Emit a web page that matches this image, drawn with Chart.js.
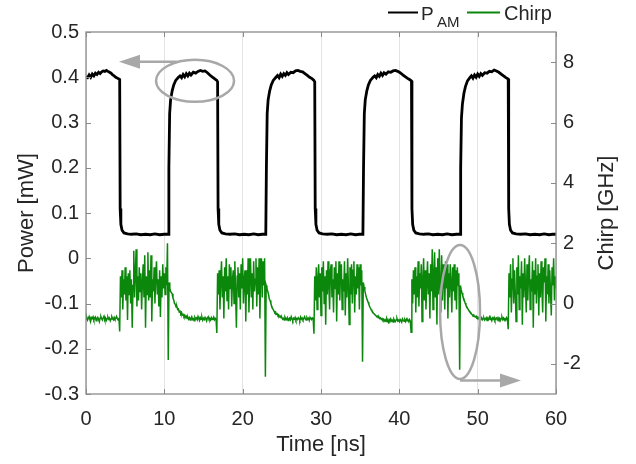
<!DOCTYPE html>
<html>
<head>
<meta charset="utf-8">
<title>Power and chirp vs time</title>
<script src="https://cdn.jsdelivr.net/npm/chart.js@4/dist/chart.umd.min.js"></script>
<style>
  html, body { margin: 0; padding: 0; background: #fff; }
  #wrap { width: 636px; height: 464px; }
</style>
</head>
<body>
<div id="wrap"><canvas id="c" width="636" height="464"></canvas></div>
<script>
// ---- tick values ----
const timeTicks = [0, 10, 20, 30, 40, 50, 60];
const powerTicks = [-0.3, -0.2, -0.1, 0, 0.1, 0.2, 0.3, 0.4, 0.5];
const chirpTicks = [-2, 0, 2, 4, 6, 8];

// ---- optical power P_AM (mW) sampled at the listed times (ns) ----
const powerTimeNs = [
  0, 0.2, 0.4, 0.6, 0.8, 1.0, 1.2, 1.4, 1.6, 1.8, 2.0, 2.2, 2.4, 2.6, 2.8, 3.0, 3.2, 3.4, 3.6, 3.8, 4.0, 4.2, 4.3,
  4.36, 4.45, 4.6, 4.85, 5.3, 5.8, 6.4, 7.0, 7.6, 8.2, 8.8, 9.4, 10.0, 10.5,
  10.58, 10.68, 10.8, 11.0, 11.2, 11.45, 11.8, 12.0, 12.2, 12.4, 12.6, 12.8, 13.0, 13.2, 13.4, 13.7, 14.0, 14.3, 14.6, 14.9, 15.2, 15.5, 15.8, 16.1, 16.4, 16.7, 16.8,
  16.86, 16.95, 17.1, 17.35, 17.8, 18.4, 19.0, 19.6, 20.2, 20.8, 21.4, 22.0, 22.5, 22.95,
  23.03, 23.13, 23.25, 23.45, 23.65, 23.9, 24.25, 24.45, 24.65, 24.85, 25.05, 25.25, 25.45, 25.65, 25.85, 26.15, 26.45, 26.75, 27.05, 27.35, 27.65, 27.95, 28.25, 28.55, 28.85, 29.1, 29.2,
  29.26, 29.35, 29.5, 29.75, 30.2, 30.8, 31.4, 32.0, 32.6, 33.2, 33.8, 34.4, 34.9, 35.35,
  35.43, 35.53, 35.65, 35.85, 36.05, 36.3, 36.65, 36.85, 37.05, 37.25, 37.45, 37.65, 37.85, 38.05, 38.3, 38.6, 38.9, 39.2, 39.5, 39.8, 40.1, 40.4, 40.7, 41.0, 41.3, 41.55,
  41.61, 41.7, 41.85, 42.1, 42.55, 43.1, 43.7, 44.3, 44.9, 45.5, 46.1, 46.7, 47.3, 47.75,
  47.83, 47.93, 48.05, 48.25, 48.45, 48.7, 49.0, 49.2, 49.4, 49.6, 49.8, 50.0, 50.2, 50.4, 50.6, 50.9, 51.2, 51.5, 51.8, 52.1, 52.4, 52.7, 53.0, 53.3, 53.6, 53.9,
  53.96, 54.05, 54.2, 54.45, 54.9, 55.5, 56.1, 56.7, 57.3, 57.9, 58.5, 59.1, 59.6, 60.0
];
const powerMW = [
  0.401, 0.399, 0.405, 0.400, 0.407, 0.403, 0.409, 0.406, 0.411, 0.408, 0.412, 0.414, 0.413, 0.415, 0.413, 0.411, 0.409, 0.405, 0.403, 0.400, 0.398, 0.396, 0.395,
  0.110, 0.075, 0.062, 0.056, 0.054, 0.053, 0.054, 0.052, 0.053, 0.052, 0.054, 0.052, 0.053, 0.053,
  0.200, 0.320, 0.350, 0.370, 0.383, 0.393, 0.400, 0.403, 0.399, 0.406, 0.401, 0.408, 0.403, 0.409, 0.405, 0.411, 0.409, 0.413, 0.415, 0.413, 0.414, 0.410, 0.405, 0.401, 0.397, 0.393, 0.390,
  0.110, 0.075, 0.062, 0.056, 0.054, 0.053, 0.054, 0.052, 0.053, 0.052, 0.054, 0.052, 0.053, 0.053,
  0.200, 0.320, 0.350, 0.370, 0.383, 0.393, 0.400, 0.404, 0.399, 0.407, 0.402, 0.408, 0.404, 0.410, 0.406, 0.411, 0.410, 0.414, 0.415, 0.413, 0.412, 0.408, 0.404, 0.400, 0.397, 0.393, 0.390,
  0.110, 0.075, 0.062, 0.056, 0.054, 0.053, 0.054, 0.052, 0.053, 0.052, 0.054, 0.052, 0.053, 0.053,
  0.200, 0.320, 0.350, 0.370, 0.383, 0.393, 0.400, 0.403, 0.399, 0.406, 0.402, 0.409, 0.404, 0.410, 0.407, 0.412, 0.411, 0.414, 0.415, 0.413, 0.410, 0.406, 0.402, 0.398, 0.395, 0.392,
  0.110, 0.075, 0.062, 0.056, 0.054, 0.053, 0.054, 0.052, 0.053, 0.052, 0.054, 0.052, 0.053, 0.053,
  0.200, 0.310, 0.340, 0.365, 0.380, 0.392, 0.399, 0.403, 0.398, 0.405, 0.400, 0.407, 0.402, 0.408, 0.404, 0.410, 0.409, 0.413, 0.412, 0.416, 0.414, 0.411, 0.407, 0.403, 0.399, 0.396,
  0.110, 0.075, 0.062, 0.056, 0.054, 0.053, 0.054, 0.052, 0.053, 0.052, 0.054, 0.052, 0.053, 0.053
];

// ---- frequency chirp (GHz), one sample every 0.1 ns from 0 to 60 ns ----
const chirpStepNs = 0.1;
const chirpGHz = [
  -0.52,-0.46,-0.55,-0.49,-0.43,-0.53,-0.58,-0.47,-0.50,-0.44,
  -0.54,-0.49,-0.45,-0.57,-0.50,-0.46,-0.52,-0.60,-0.48,-0.44,
  -0.51,-0.55,-0.47,-0.42,-0.53,-0.49,-0.56,-0.50,-0.45,-0.52,
  -0.48,-0.57,-0.51,-0.44,-0.50,-0.54,-0.46,-0.52,-0.49,-0.43,
  -0.50,-0.55,-0.47,-0.93,0.90,0.20,1.10,-0.20,0.80,0.30,
  1.20,0.10,0.90,-0.55,1.00,0.30,1.10,0.00,0.80,-0.80,
  0.60,1.75,0.20,1.00,1.80,-0.10,0.90,0.10,1.20,0.40,
  1.00,-0.20,0.70,1.30,0.20,1.60,-0.80,0.90,0.30,1.70,
  0.10,1.10,0.20,1.60,-0.60,0.80,0.40,1.20,0.00,0.90,
  1.40,0.30,0.80,-0.10,1.10,-0.45,0.90,0.20,1.30,0.50,
  1.00,0.30,1.20,0.60,2.00,-1.87,0.70,0.50,0.40,0.36,
  0.32,0.18,0.12,0.00,-0.02,-0.12,-0.10,-0.20,-0.18,-0.28,
  -0.26,-0.34,-0.30,-0.38,-0.36,-0.43,-0.39,-0.46,-0.42,-0.50,
  -0.45,-0.52,-0.47,-0.55,-0.49,-0.44,-0.53,-0.50,-0.57,-0.46,
  -0.51,-0.48,-0.54,-0.43,-0.50,-0.56,-0.47,-0.52,-0.45,-0.55,
  -0.49,-0.53,-0.46,-0.51,-0.58,-0.48,-0.44,-0.52,-0.50,-0.55,
  -0.47,-0.53,-0.50,-0.45,-0.54,-0.49,-0.52,-0.98,1.00,0.30,
  1.10,-0.20,0.80,1.40,0.20,0.90,-0.50,1.20,0.40,1.50,
  0.10,0.90,-0.20,1.30,0.50,1.20,-0.10,0.80,1.10,0.00,
  1.40,0.30,-0.80,0.90,1.20,0.20,1.00,-0.20,1.30,0.50,
  1.50,0.00,0.80,1.10,-0.60,1.10,0.30,1.50,-0.30,0.90,
  1.50,0.20,1.00,-0.20,1.40,0.40,0.80,1.50,-0.10,1.20,
  0.30,1.50,-0.50,1.00,1.50,0.20,1.40,0.60,1.50,-2.43,
  0.60,0.50,0.40,0.30,0.15,0.10,0.00,-0.08,-0.15,-0.20,
  -0.25,-0.30,-0.28,-0.36,-0.34,-0.40,-0.38,-0.44,-0.42,-0.47,
  -0.46,-0.52,-0.49,-0.55,-0.45,-0.50,-0.53,-0.47,-0.56,-0.50,
  -0.48,-0.54,-0.44,-0.51,-0.57,-0.49,-0.52,-0.46,-0.55,-0.50,
  -0.53,-0.47,-0.50,-0.56,-0.45,-0.52,-0.48,-0.54,-0.50,-0.44,
  -0.51,-0.55,-0.47,-0.52,-0.49,-0.56,-0.46,-0.50,-0.53,-0.48,
  -0.50,-1.00,0.90,0.10,1.20,-0.20,0.80,1.30,0.20,1.00,
  -0.40,1.20,0.40,1.40,0.00,0.90,-0.70,1.10,0.30,1.40,
  0.60,-0.20,1.10,1.30,0.20,0.80,-0.30,1.20,0.50,1.40,
  -0.60,1.00,0.30,1.40,0.10,1.10,1.30,-0.20,0.80,0.40,
  1.40,-0.40,1.00,0.20,1.50,0.60,-0.70,1.20,0.30,1.30,
  0.00,1.10,1.40,-0.30,0.90,0.30,1.30,0.50,1.20,-0.20,
  1.30,0.60,1.10,-1.93,0.70,0.55,0.42,0.30,0.20,0.12,
  0.05,-0.02,-0.10,-0.15,-0.20,-0.25,-0.28,-0.32,-0.35,-0.38,
  -0.40,-0.44,-0.42,-0.47,-0.45,-0.50,-0.48,-0.53,-0.50,-0.55,
  -0.52,-0.58,-0.54,-0.60,-0.50,-0.56,-0.62,-0.53,-0.57,-0.51,
  -0.58,-0.55,-0.61,-0.52,-0.57,-0.60,-0.54,-0.50,-0.58,-0.55,
  -0.60,-0.53,-0.57,-0.62,-0.51,-0.56,-0.59,-0.54,-0.60,-0.52,
  -0.57,-0.55,-0.60,-0.53,-0.58,-0.95,0.80,0.00,1.10,0.30,
  1.20,-0.30,0.90,0.20,1.40,-0.10,1.00,0.50,1.30,-0.60,
  0.80,1.50,0.10,1.10,-0.20,0.70,1.40,0.30,1.00,-0.50,
  1.30,0.40,1.80,-0.20,0.90,1.70,0.20,1.20,-0.70,1.50,
  0.30,1.80,0.60,-0.30,1.60,0.10,1.30,0.80,-0.20,1.40,
  0.50,1.30,-0.50,1.00,0.20,1.30,0.70,-0.30,1.20,0.40,
  1.30,0.10,1.10,-0.20,1.20,0.60,1.00,-2.20,0.60,0.45,
  0.35,0.25,0.18,0.10,0.02,-0.05,-0.10,-0.15,-0.20,-0.24,
  -0.28,-0.30,-0.34,-0.37,-0.40,-0.38,-0.43,-0.45,-0.42,-0.47,
  -0.45,-0.50,-0.47,-0.53,-0.49,-0.46,-0.54,-0.50,-0.48,-0.55,
  -0.51,-0.47,-0.56,-0.49,-0.52,-0.45,-0.53,-0.50,-0.57,-0.48,
  -0.52,-0.46,-0.55,-0.50,-0.48,-0.54,-0.47,-0.53,-0.49,-0.56,
  -0.50,-0.45,-0.53,-0.48,-0.55,-0.50,-0.52,-0.47,-0.54,-0.85,
  1.00,0.20,1.30,-0.30,0.80,1.50,0.00,1.10,0.40,-0.60,
  1.20,0.30,1.60,-0.20,0.90,0.50,1.40,-0.70,1.00,0.20,
  1.50,0.60,-0.30,1.30,0.10,1.00,1.60,-0.20,0.80,0.40,
  1.40,-0.80,1.10,0.30,1.50,0.00,0.90,1.30,-0.40,1.00,
  0.20,1.40,0.50,-0.30,1.20,0.70,1.50,-0.60,0.90,0.30,
  1.30,0.00,1.10,0.40,-0.40,1.20,0.60,1.50,0.10,0.90,
  0.50
];

// ---- call-out marks, in data units ----
const powerNote = { t: 13.92, p: 0.392, rt: 4.98, rp: 0.0464, fromT: 11.62, toT: 4.21, atP: 0.434 };
const chirpNote = { t: 47.75, f: -0.28, rt: 2.55, rf: 2.22, fromT: 47.75, toT: 55.53, atF: -2.55 };

const FONT = "'Liberation Sans', Arial, Helvetica, sans-serif";
const TEXT = '#262626';
const FRAME = '#8a8a8a';
const NOTE = '#a8a8a8';
const POWER_COLOR = '#000000';
const CHIRP_COLOR = '#0b870b';
const TICK_SIZE = 20;
const TITLE_SIZE = 22;

Chart.defaults.font.family = FONT;
Chart.defaults.color = TEXT;

const powerPoints = powerTimeNs.map((t, i) => ({ x: t, y: powerMW[i] }));
const chirpPoints = chirpGHz.map((f, i) => ({ x: +(i * chirpStepNs).toFixed(2), y: f }));

function arrow(ctx, x0, y0, x1, y1, headLen, headHalf) {
  const ang = Math.atan2(y1 - y0, x1 - x0);
  const bx = x1 - headLen * Math.cos(ang), by = y1 - headLen * Math.sin(ang);
  ctx.beginPath();
  ctx.moveTo(x0, y0);
  ctx.lineTo(bx, by);
  ctx.stroke();
  ctx.beginPath();
  ctx.moveTo(x1, y1);
  ctx.lineTo(bx - headHalf * Math.sin(ang), by + headHalf * Math.cos(ang));
  ctx.lineTo(bx + headHalf * Math.sin(ang), by - headHalf * Math.cos(ang));
  ctx.closePath();
  ctx.fill();
}

const decorations = {
  id: 'decorations',
  afterDatasetsDraw(chart) {
    const { ctx, chartArea: a, scales } = chart;
    const x = scales.x, y = scales.y, y1 = scales.y1;
    ctx.save();

    // axes box and inward ticks
    ctx.strokeStyle = FRAME;
    ctx.lineWidth = 1;
    ctx.beginPath();
    timeTicks.forEach(v => {
      const px = Math.round(x.getPixelForValue(v)) + 0.5;
      ctx.moveTo(px, a.top); ctx.lineTo(px, a.top + 5);
      ctx.moveTo(px, a.bottom); ctx.lineTo(px, a.bottom - 5);
    });
    powerTicks.forEach(v => {
      const py = Math.round(y.getPixelForValue(v)) + 0.5;
      ctx.moveTo(a.left, py); ctx.lineTo(a.left + 5, py);
    });
    chirpTicks.forEach(v => {
      const py = Math.round(y1.getPixelForValue(v)) + 0.5;
      ctx.moveTo(a.right, py); ctx.lineTo(a.right - 5, py);
    });
    ctx.stroke();
    ctx.lineWidth = 1.3;
    ctx.strokeRect(a.left, a.top, a.right - a.left, a.bottom - a.top);

    // call-outs
    ctx.strokeStyle = NOTE;
    ctx.fillStyle = NOTE;
    ctx.lineWidth = 2.5;
    const c1x = x.getPixelForValue(powerNote.t), c1y = y.getPixelForValue(powerNote.p);
    const r1x = x.getPixelForValue(powerNote.t + powerNote.rt) - c1x;
    const r1y = c1y - y.getPixelForValue(powerNote.p + powerNote.rp);
    ctx.beginPath();
    ctx.ellipse(c1x, c1y, r1x, r1y, 0, 0, Math.PI * 2);
    ctx.stroke();
    const ay1 = y.getPixelForValue(powerNote.atP);
    arrow(ctx, x.getPixelForValue(powerNote.fromT), ay1, x.getPixelForValue(powerNote.toT), ay1, 21, 7);

    const c2x = x.getPixelForValue(chirpNote.t), c2y = y1.getPixelForValue(chirpNote.f);
    const r2x = x.getPixelForValue(chirpNote.t + chirpNote.rt) - c2x;
    const r2y = c2y - y1.getPixelForValue(chirpNote.f + chirpNote.rf);
    ctx.beginPath();
    ctx.ellipse(c2x, c2y, r2x, r2y, 0, 0, Math.PI * 2);
    ctx.stroke();
    const ay2 = y1.getPixelForValue(chirpNote.atF);
    arrow(ctx, x.getPixelForValue(chirpNote.fromT), ay2, x.getPixelForValue(chirpNote.toT), ay2, 21, 7);
    ctx.restore();
  },
  afterDraw(chart) {
    const { ctx, chartArea: a } = chart;
    ctx.save();
    // right-hand axis title, reading bottom to top
    ctx.fillStyle = TEXT;
    ctx.font = `${TITLE_SIZE}px ${FONT}`;
    ctx.textAlign = 'center';
    ctx.textBaseline = 'middle';
    ctx.translate(607, (a.top + a.bottom) / 2);
    ctx.rotate(-Math.PI / 2);
    ctx.fillText('Chirp [GHz]', 0, 0);
    ctx.restore();

    // legend
    const ds = chart.data.datasets;
    ctx.save();
    ctx.lineWidth = 2;
    ctx.strokeStyle = ds[0].borderColor;
    ctx.beginPath(); ctx.moveTo(388, 12.5); ctx.lineTo(418, 12.5); ctx.stroke();
    ctx.fillStyle = TEXT;
    ctx.textBaseline = 'alphabetic';
    ctx.textAlign = 'left';
    ctx.font = `19px ${FONT}`;
    ctx.fillText('P', 421, 19.5);
    ctx.font = `15px ${FONT}`;
    ctx.fillText('AM', 437, 26.5);
    ctx.strokeStyle = ds[1].borderColor;
    ctx.beginPath(); ctx.moveTo(467, 12.5); ctx.lineTo(500, 12.5); ctx.stroke();
    ctx.font = `20px ${FONT}`;
    ctx.fillText('Chirp', 504, 20);
    ctx.restore();
  }
};

new Chart(document.getElementById('c'), {
  type: 'line',
  data: {
    datasets: [
      { label: 'P_AM', data: powerPoints, yAxisID: 'y', borderColor: POWER_COLOR, borderWidth: 2.8,
        pointRadius: 0, tension: 0, fill: false, order: 1 },
      { label: 'Chirp', data: chirpPoints, yAxisID: 'y1', borderColor: CHIRP_COLOR, borderWidth: 1.5,
        pointRadius: 0, tension: 0, fill: false, order: 2 }
    ]
  },
  options: {
    responsive: false,
    animation: false,
    events: [],
    layout: { padding: { top: 32, left: 0, right: 0, bottom: 0 } },
    plugins: { legend: { display: false }, tooltip: { enabled: false } },
    scales: {
      x: {
        type: 'linear', min: 0, max: 60,
        afterBuildTicks: s => { s.ticks = timeTicks.map(v => ({ value: v })); },
        afterFit: s => { s.height = 70; },
        grid: { color: '#e3e3e3', lineWidth: 1, drawTicks: false },
        border: { display: false },
        ticks: { font: { size: TICK_SIZE }, color: TEXT, padding: 13, maxRotation: 0 },
        title: { display: true, text: 'Time [ns]', font: { size: TITLE_SIZE }, color: TEXT, padding: { top: 0, bottom: 6 } }
      },
      y: {
        type: 'linear', position: 'left', min: -0.3, max: 0.5,
        afterBuildTicks: s => { s.ticks = powerTicks.map(v => ({ value: v })); },
        afterFit: s => { s.width = 86; },
        grid: { display: false, drawTicks: false },
        border: { display: false },
        ticks: { font: { size: TICK_SIZE }, color: TEXT, padding: 7, callback: v => String(+v.toFixed(1)) },
        title: { display: true, text: 'Power [mW]', font: { size: TITLE_SIZE }, color: TEXT, padding: { top: 14, bottom: 0 } }
      },
      y1: {
        type: 'linear', position: 'right', min: -3, max: 9,
        afterBuildTicks: s => { s.ticks = chirpTicks.map(v => ({ value: v })); },
        afterFit: s => { s.width = 80; },
        grid: { display: false, drawTicks: false },
        border: { display: false },
        ticks: { font: { size: TICK_SIZE }, color: TEXT, padding: 7, callback: v => String(v) }
      }
    }
  },
  plugins: [decorations]
});
</script>
</body>
</html>
